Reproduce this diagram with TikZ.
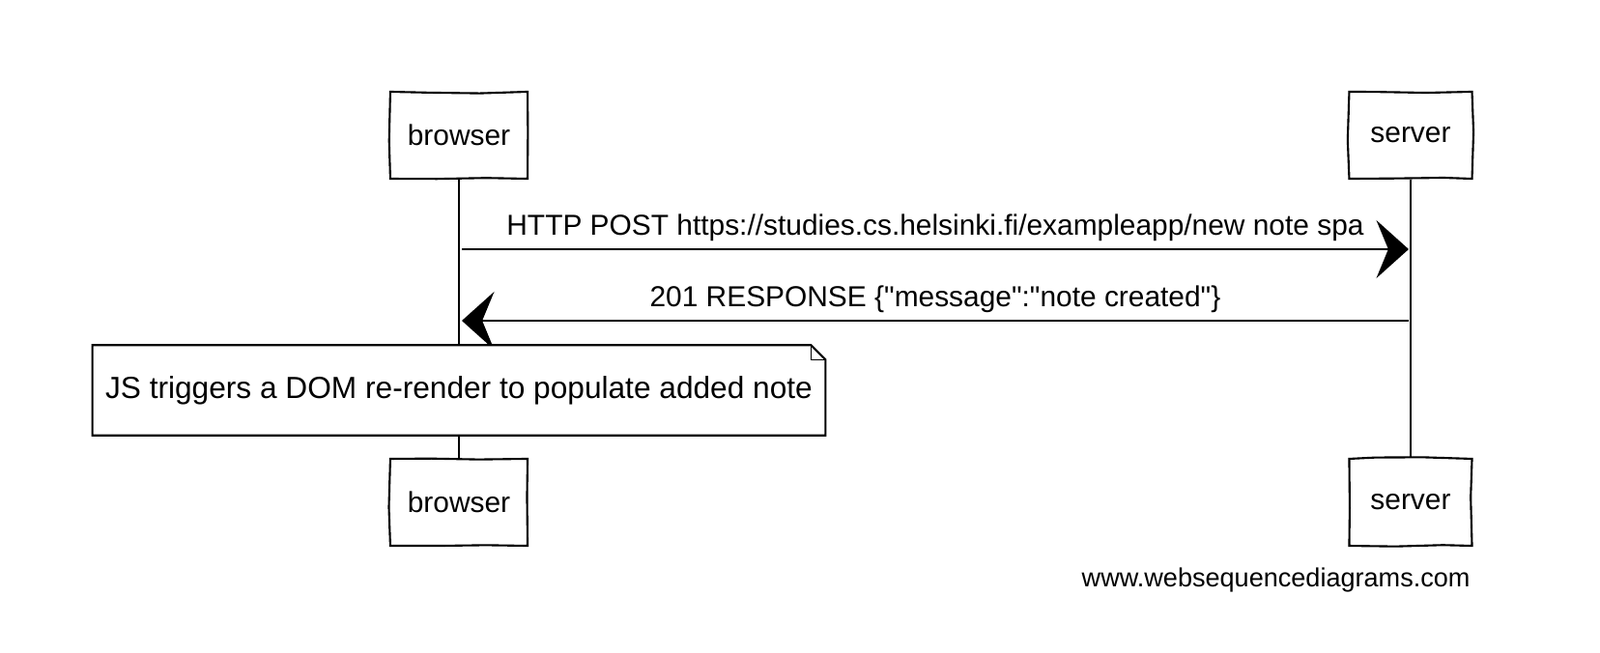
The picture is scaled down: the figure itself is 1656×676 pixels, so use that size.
\documentclass[tikz,border=0pt]{standalone}
\usepackage{fontspec}
\setmainfont{Liberation Sans}
\usetikzlibrary{arrows.meta,decorations.pathmorphing}

\begin{document}
\begin{tikzpicture}
    [x=0.01cm, y=-0.01cm, font=\fontsize{8.5}{10}\selectfont,
     sketch/.style={decorate, decoration={random steps, segment length=14pt, amplitude=0.5pt}},
     actor/.style={draw, sketch, line width=0.6pt, minimum height=0.9cm, inner sep=0pt},
     lifeline/.style={line width=0.5pt},
     msg/.style={line width=0.85pt, -{Stealth[length=9.5pt, width=17pt, inset=3.5pt]}},
     notebox/.style={fill=white, minimum width=7.57cm, minimum height=0.92cm, inner sep=0pt,
       font=\fontsize{9}{11}\selectfont}]
    \useasboundingbox (0,0) rectangle (1656,676);
    \node[actor, minimum width=1.42cm] (browser) at (475,140) {browser};
    \node[actor, minimum width=1.27cm] (server) at (1460,140) {server};
    \node[actor, minimum width=1.42cm] (browserfoot) at (475,520) {browser};
    \node[actor, minimum width=1.27cm] (serverfoot) at (1460,520) {server};
    \draw[lifeline] (browser) -- (browserfoot);
    \draw[lifeline] (server) -- (serverfoot);
    \coordinate (post from) at (478,258);
    \coordinate (post to) at (1458,258);
    \coordinate (resp from) at (1458,332);
    \coordinate (resp to) at (478,332);
    \draw[msg] (post from) -- node[above, inner sep=2pt] {HTTP POST https://studies.cs.helsinki.fi/exampleapp/new note spa} (post to);
    \draw[msg] (resp from) -- node[above, inner sep=2pt]
      {201 RESPONSE \{\textquotedbl message\textquotedbl:\textquotedbl note created\textquotedbl\}} (resp to);
    \node[notebox] (note) at (475,404) {JS triggers a DOM re-render to populate added note};
    \draw[line width=0.6pt] (note.north west) -- ([xshift=-0.15cm]note.north east)
      -- ([yshift=-0.15cm]note.north east) -- (note.south east) -- (note.south west) -- cycle;
    \draw[line width=0.4pt] ([xshift=-0.15cm]note.north east) |- ([yshift=-0.15cm]note.north east);
    \node[anchor=east, font=\fontsize{7.7}{9}\selectfont] (credit) at (1534,601) {www.websequencediagrams.com};
\end{tikzpicture}
\end{document}
